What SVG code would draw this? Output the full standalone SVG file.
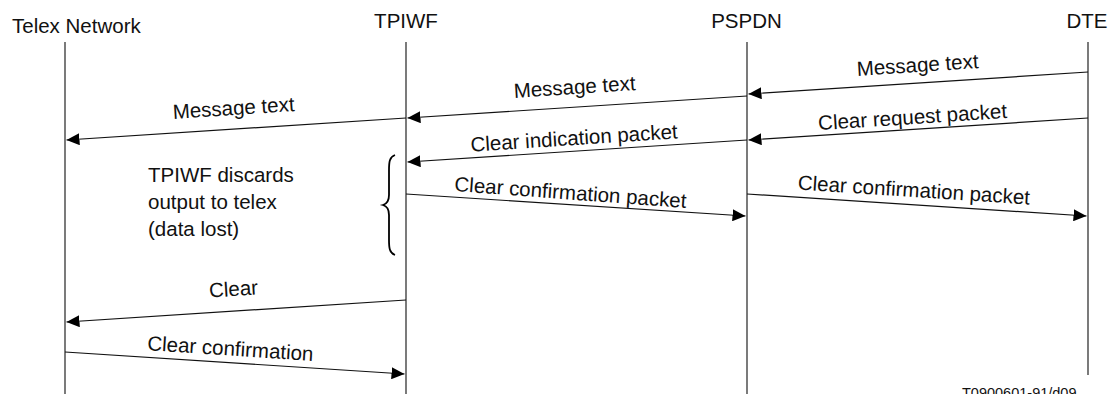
<svg xmlns="http://www.w3.org/2000/svg" width="1109" height="394" viewBox="0 0 1109 394">
<defs>
<style>
text{font-family:"Liberation Sans",Arial,sans-serif;font-size:20.5px;fill:#111}
.hdr{text-anchor:middle}
.lbl{text-anchor:middle}
.life{stroke:#333;stroke-width:1.3;fill:none}
.msg{stroke:#111;stroke-width:1.2;fill:none;marker-end:url(#ah)}
.foot{font-size:14.5px}
</style>
<marker id="ah" viewBox="0 0 13 12" refX="13" refY="6" markerWidth="13" markerHeight="12" markerUnits="userSpaceOnUse" orient="auto">
<path d="M0,0 L13,6 L0,12 Z" fill="#000"/>
</marker>
</defs>
<rect width="1109" height="394" fill="#fff"/>
<g id="telex">
<text x="12" y="33">Telex Network</text>
<line class="life" x1="65" y1="42" x2="65" y2="394"/>
</g>
<g id="tpiwf">
<text class="hdr" x="406" y="28">TPIWF</text>
<line class="life" x1="406" y1="42" x2="406" y2="394"/>
</g>
<g id="pspdn">
<text class="hdr" x="746.5" y="28">PSPDN</text>
<line class="life" x1="747" y1="42" x2="747" y2="394"/>
</g>
<g id="dte">
<text class="hdr" x="1087" y="28">DTE</text>
<line class="life" x1="1088" y1="42" x2="1088" y2="375"/>
</g>
<g id="note">
<text x="148" y="182">TPIWF discards</text>
<text x="148" y="209">output to telex</text>
<text x="148" y="236">(data lost)</text>
<path d="M395,155 C389.5,157 389,162 389,170 L389,195 C389,201 386.5,204 383,205 C386.5,206 389,209 389,215 L389,240 C389,248 389.5,253 395,255" fill="none" stroke="#000" stroke-width="1.8"/>
</g>
<g id="connectors">
<path class="msg" d="M1088,72 L748.5,94"/>
<text class="lbl" transform="translate(918,72) rotate(-3.7)">Message text</text>
<path class="msg" d="M747,96 L407.5,118"/>
<text class="lbl" transform="translate(575,94) rotate(-3.7)">Message text</text>
<path class="msg" d="M406,118 L66.5,140"/>
<text class="lbl" transform="translate(234,115) rotate(-3.7)">Message text</text>
<path class="msg" d="M1088,118 L748.5,140"/>
<text class="lbl" transform="translate(913,124) rotate(-3.7)">Clear request packet</text>
<path class="msg" d="M747,140 L407.5,162"/>
<text class="lbl" transform="translate(574.5,145) rotate(-3.7)">Clear indication packet</text>
<path class="msg" d="M406,194 L745.5,216"/>
<text class="lbl" transform="translate(570,199.5) rotate(4.2)">Clear confirmation packet</text>
<path class="msg" d="M747,194 L1086.5,216"/>
<text class="lbl" transform="translate(913.5,197) rotate(3.7)">Clear confirmation packet</text>
<path class="msg" d="M406,300 L66.5,322"/>
<text class="lbl" transform="translate(234,296) rotate(-3.7)">Clear</text>
<path class="msg" d="M65,352 L404.5,374"/>
<text class="lbl" transform="translate(230,355.5) rotate(3.7)">Clear confirmation</text>
</g>
<text class="foot" x="962" y="397.5">T0900601-91/d09</text>
</svg>
